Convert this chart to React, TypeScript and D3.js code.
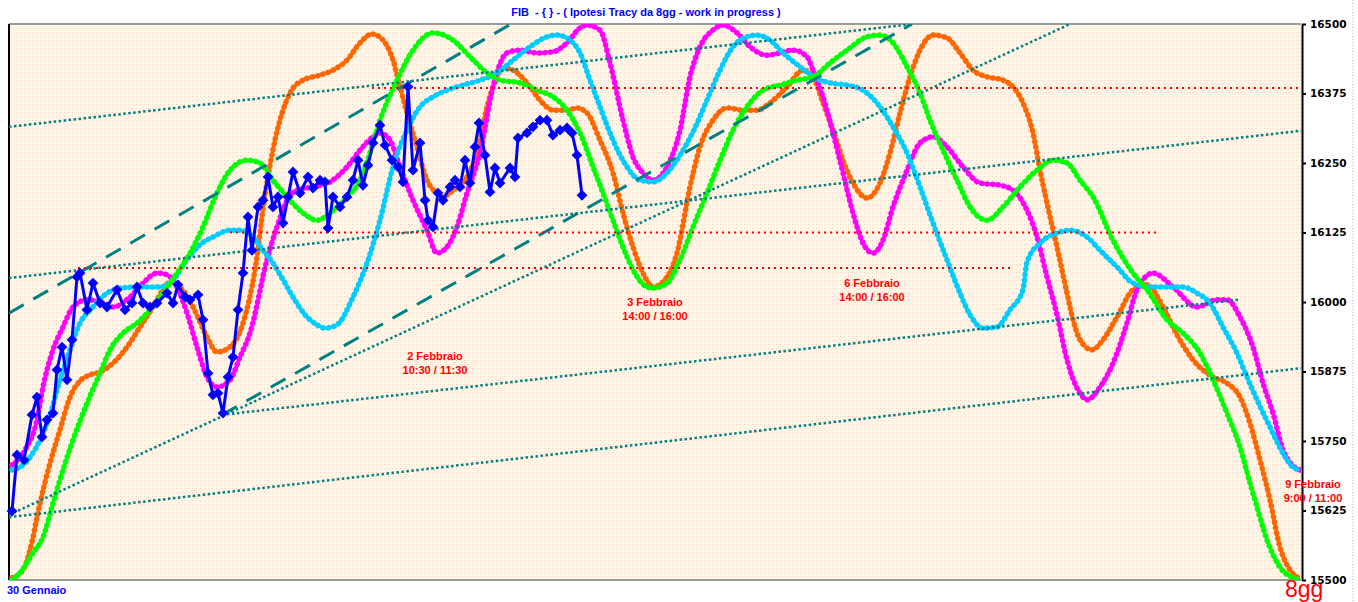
import React, { useRef, useEffect } from 'react';
import * as d3 from 'd3';

type Pt = [number, number];

// t = position along the 8-day horizon (0 .. 1292), v = FIB index level
const orangeCycle: Pt[] = [
  [3, 15504], [14, 15518], [21, 15554], [31, 15638], [41, 15710], [51, 15770], [61, 15829], [69, 15854],
  [81, 15869], [91, 15874], [104, 15890], [118, 15919], [131, 15955], [144, 15991], [154, 16022], [161, 16036],
  [171, 16027], [184, 15991], [198, 15937], [208, 15910], [221, 15919], [234, 15962], [246, 16058], [256, 16192],
  [266, 16291], [281, 16376], [294, 16399], [311, 16408], [324, 16417], [338, 16435], [351, 16466], [363, 16482],
  [374, 16471], [384, 16435], [391, 16387], [398, 16340], [408, 16279], [418, 16219], [428, 16196], [434, 16189],
  [444, 16201], [458, 16225], [468, 16268], [478, 16351], [488, 16405], [494, 16421], [504, 16417], [518, 16394],
  [531, 16363], [544, 16345], [558, 16345], [568, 16349], [578, 16340], [591, 16291], [604, 16232], [614, 16160],
  [624, 16099], [634, 16052], [644, 16027], [658, 16045], [668, 16088], [681, 16207], [691, 16279], [704, 16327],
  [718, 16349], [734, 16345], [748, 16345], [761, 16358], [778, 16387], [794, 16417], [804, 16405], [814, 16358],
  [824, 16309], [834, 16255], [844, 16214], [858, 16187], [871, 16214], [881, 16268], [891, 16340], [901, 16405],
  [911, 16453], [924, 16480], [938, 16475], [951, 16448], [964, 16417], [978, 16405], [994, 16399], [1004, 16387],
  [1014, 16358], [1024, 16304], [1031, 16237], [1038, 16178], [1048, 16099], [1058, 16016], [1064, 15968], [1071, 15932],
  [1083, 15914], [1094, 15932], [1108, 15973], [1124, 16022], [1138, 16031], [1154, 15991], [1168, 15941], [1184, 15896],
  [1204, 15865], [1218, 15854], [1231, 15829], [1241, 15782], [1251, 15716], [1261, 15644], [1271, 15559], [1281, 15518],
  [1289, 15504],
];

const greenCycle: Pt[] = [
  [3, 15500], [11, 15513], [24, 15549], [34, 15577], [44, 15638], [54, 15698], [64, 15752], [78, 15818],
  [91, 15872], [101, 15914], [114, 15944], [128, 15962], [141, 15986], [154, 16016], [168, 16052], [181, 16088],
  [194, 16135], [208, 16196], [221, 16237], [238, 16255], [251, 16250], [264, 16219], [278, 16189], [294, 16160],
  [308, 16147], [321, 16160], [338, 16189], [351, 16219], [361, 16268], [371, 16327], [381, 16372], [388, 16399],
  [404, 16453], [424, 16484], [444, 16471], [461, 16441], [478, 16412], [491, 16399], [511, 16394], [528, 16381],
  [544, 16369], [558, 16345], [571, 16304], [584, 16243], [594, 16196], [604, 16147], [614, 16099], [624, 16058],
  [638, 16027], [644, 16025], [658, 16034], [671, 16076], [684, 16135], [698, 16196], [711, 16255], [724, 16309],
  [738, 16351], [754, 16381], [771, 16390], [788, 16399], [804, 16405], [821, 16430], [838, 16453], [858, 16477],
  [871, 16480], [884, 16466], [898, 16423], [911, 16376], [921, 16327], [934, 16273], [948, 16219], [961, 16171],
  [978, 16147], [994, 16171], [1011, 16207], [1028, 16237], [1044, 16255], [1058, 16250], [1071, 16219], [1084, 16189],
  [1104, 16111], [1124, 16052], [1138, 16022], [1158, 15968], [1174, 15944], [1191, 15908], [1204, 15860], [1218, 15800],
  [1231, 15739], [1241, 15674], [1248, 15631], [1258, 15572], [1271, 15523], [1284, 15504], [1291, 15500],
];

const magentaCycle: Pt[] = [
  [3, 15707], [16, 15734], [28, 15788], [34, 15847], [44, 15914], [54, 15955], [64, 15991], [78, 16004],
  [91, 16000], [104, 15991], [121, 16009], [134, 16034], [148, 16052], [158, 16049], [168, 16027], [178, 15980],
  [188, 15919], [198, 15865], [208, 15847], [221, 15860], [231, 15901], [241, 15944], [258, 16076], [268, 16135],
  [278, 16183], [288, 16201], [304, 16207], [321, 16216], [338, 16243], [351, 16273], [364, 16297], [371, 16304],
  [381, 16291], [391, 16243], [404, 16183], [418, 16129], [428, 16088], [438, 16099], [448, 16135], [458, 16196],
  [471, 16268], [484, 16387], [498, 16448], [511, 16453], [528, 16448], [544, 16450], [558, 16466], [571, 16493],
  [578, 16498], [591, 16489], [601, 16430], [614, 16327], [624, 16261], [634, 16232], [644, 16219], [658, 16243],
  [671, 16309], [681, 16405], [691, 16459], [704, 16489], [714, 16498], [728, 16484], [741, 16459], [758, 16444],
  [771, 16448], [784, 16453], [798, 16441], [804, 16417], [814, 16369], [824, 16304], [834, 16232], [844, 16160],
  [854, 16106], [864, 16088], [874, 16111], [884, 16171], [898, 16237], [911, 16286], [924, 16297], [938, 16279],
  [954, 16243], [971, 16214], [991, 16210], [1004, 16201], [1018, 16165], [1028, 16117], [1038, 16045], [1048, 15977],
  [1058, 15896], [1071, 15836], [1078, 15824], [1091, 15847], [1104, 15890], [1118, 15962], [1128, 16022], [1144, 16052],
  [1164, 16027], [1188, 15991], [1208, 16004], [1218, 16004], [1231, 15973], [1244, 15919], [1254, 15854], [1264, 15800],
  [1274, 15734], [1283, 15707], [1291, 15698],
];

const cyanCycle: Pt[] = [
  [3, 15698], [11, 15703], [31, 15752], [41, 15797], [51, 15860], [61, 15914], [71, 15962], [84, 15991],
  [98, 16016], [111, 16025], [131, 16027], [151, 16027], [164, 16040], [178, 16076], [191, 16103], [204, 16117],
  [221, 16129], [231, 16129], [244, 16117], [254, 16093], [264, 16070], [274, 16040], [284, 16009], [296, 15977],
  [308, 15959], [316, 15953], [328, 15959], [344, 16009], [358, 16070], [371, 16147], [384, 16243], [398, 16309],
  [411, 16351], [424, 16369], [438, 16381], [454, 16390], [471, 16399], [488, 16412], [504, 16435], [521, 16459],
  [538, 16477], [548, 16480], [561, 16471], [571, 16448], [581, 16399], [591, 16351], [604, 16291], [618, 16243],
  [631, 16219], [644, 16216], [658, 16232], [671, 16264], [684, 16306], [698, 16363], [711, 16417], [724, 16459],
  [738, 16477], [748, 16480], [761, 16471], [774, 16448], [791, 16423], [804, 16405], [821, 16394], [838, 16390],
  [854, 16381], [871, 16351], [884, 16315], [898, 16268], [911, 16207], [924, 16142], [938, 16076], [951, 16016],
  [961, 15977], [974, 15953], [988, 15955], [1001, 15986], [1014, 16022], [1018, 16072], [1031, 16106], [1048, 16124],
  [1061, 16129], [1078, 16117], [1091, 16093], [1108, 16063], [1124, 16034], [1141, 16027], [1158, 16027], [1174, 16027],
  [1188, 16016], [1201, 15998], [1214, 15955], [1228, 15908], [1238, 15865], [1248, 15824], [1261, 15775], [1274, 15728],
  [1284, 15703], [1291, 15698],
];

const fibPrice: Pt[] = [
  [3, 15624], [8, 15725], [15, 15716], [23, 15797], [28, 15829], [33, 15757], [38, 15788], [44, 15800],
  [48, 15878], [53, 15919], [58, 15860], [63, 15932], [68, 16045], [71, 16052], [78, 15986], [84, 16034],
  [91, 15998], [98, 15991], [108, 16022], [116, 15986], [123, 15998], [128, 16027], [134, 15998], [141, 15991],
  [148, 15998], [158, 16016], [164, 15998], [169, 16031], [176, 16009], [181, 16004], [189, 16013], [194, 15968],
  [199, 15872], [204, 15833], [209, 15836], [214, 15800], [219, 15865], [224, 15901], [229, 15986], [234, 16052],
  [239, 16153], [243, 16093], [249, 16171], [254, 16183], [259, 16225], [264, 16171], [269, 16189], [274, 16142],
  [279, 16189], [284, 16234], [291, 16196], [299, 16225], [304, 16205], [311, 16219], [316, 16216], [319, 16133],
  [324, 16189], [331, 16171], [338, 16189], [344, 16219], [349, 16255], [354, 16210], [359, 16246], [364, 16286],
  [371, 16318], [376, 16282], [383, 16255], [389, 16243], [394, 16216], [399, 16387], [404, 16237], [411, 16286],
  [416, 16183], [419, 16147], [424, 16135], [429, 16196], [434, 16183], [441, 16207], [446, 16219], [451, 16207],
  [456, 16255], [461, 16214], [466, 16279], [470, 16322], [476, 16264], [481, 16198], [486, 16241], [491, 16214],
  [501, 16241], [506, 16225], [509, 16295], [518, 16304], [524, 16315], [531, 16327], [538, 16327], [544, 16300],
  [551, 16309], [558, 16313], [563, 16304], [568, 16264], [573, 16192],
];

// trend lines: start / end point
const dashedTrends: [Pt, Pt][] = [
  [[0, 15980], [502, 16500]],
  [[213, 15797], [903, 16500]],
];
const dottedTrends: [Pt, Pt][] = [
  [[0, 16315], [904, 16500]],
  [[0, 16043], [1292, 16308]],
  [[0, 15617], [1061, 16500]],
  [[0, 15613], [1292, 15881]],
  [[213, 15797], [1229, 16004]],
];

const redLevels = [
  { level: 16385, from: 363, to: 1292 },
  { level: 16125, from: 221, to: 1151 },
  { level: 16061, from: 69, to: 1001 },
];

const yTicks = [15500, 15625, 15750, 15875, 16000, 16125, 16250, 16375, 16500];

const notes = [
  { t: 426, v: 15896, day: '2 Febbraio', time: '10:30 / 11:30' },
  { t: 646, v: 15993, day: '3 Febbraio', time: '14:00 / 16:00' },
  { t: 863, v: 16027, day: '6 Febbraio', time: '14:00 / 16:00' },
  { t: 1304, v: 15665, day: '9 Febbraio', time: '9:00 / 11:00' },
];

const W = 1358;
const H = 602;
const margin = { top: 24, right: 57, bottom: 22, left: 9 };

const App: React.FC = () => {
  const svgRef = useRef<SVGSVGElement>(null);

  useEffect(() => {
    if (!svgRef.current) return;
    const svg = d3.select(svgRef.current);
    svg.selectAll('*').remove();

    const x0 = margin.left;
    const x1 = W - margin.right;
    const y0 = margin.top;
    const y1 = H - margin.bottom;

    const x = d3.scaleLinear().domain([0, 1292]).range([x0, x1]);
    const y = d3.scaleLinear().domain([15500, 16500]).range([y1, y0]);

    // dotted cream background like the original chart
    const defs = svg.append('defs');
    const pat = defs.append('pattern')
      .attr('id', 'bgdots')
      .attr('width', 4)
      .attr('height', 4)
      .attr('patternUnits', 'userSpaceOnUse');
    pat.append('rect').attr('width', 4).attr('height', 4).attr('fill', '#fef8f0');
    pat.append('rect').attr('x', 0).attr('y', 0).attr('width', 1).attr('height', 1).attr('fill', '#f6d2bc');
    pat.append('rect').attr('x', 2).attr('y', 2).attr('width', 1).attr('height', 1).attr('fill', '#f1ebbe');
    pat.append('rect').attr('x', 2).attr('y', 0).attr('width', 1).attr('height', 1).attr('fill', '#fbeee4');
    pat.append('rect').attr('x', 0).attr('y', 2).attr('width', 1).attr('height', 1).attr('fill', '#fbf1e0');

    defs.append('clipPath').attr('id', 'plotclip')
      .append('rect')
      .attr('x', x0).attr('y', y0)
      .attr('width', x1 - x0).attr('height', y1 - y0);

    svg.append('rect').attr('width', W).attr('height', H).attr('fill', '#ffffff');
    svg.append('line')
      .attr('x1', W - 5).attr('x2', W - 5).attr('y1', 0).attr('y2', H)
      .attr('stroke', '#b0b0b0').attr('stroke-dasharray', '1 2');
    svg.append('rect')
      .attr('x', x0).attr('y', y0)
      .attr('width', x1 - x0).attr('height', y1 - y0)
      .attr('fill', 'url(#bgdots)');
    svg.append('line').attr('x1', x0).attr('x2', x1).attr('y1', y0).attr('y2', y0)
      .attr('stroke', '#9a9a9a').attr('stroke-width', 2);
    svg.append('line').attr('x1', x0).attr('x2', x1).attr('y1', y1).attr('y2', y1)
      .attr('stroke', '#9a9a9a').attr('stroke-width', 2);
    svg.append('line').attr('x1', x0).attr('x2', x0).attr('y1', y0).attr('y2', y1)
      .attr('stroke', '#000').attr('stroke-width', 2);

    const plot = svg.append('g').attr('clip-path', 'url(#plotclip)');

    // cycle curves: thick line plus small dot markers
    const smooth = d3.line<Pt>()
      .x(d => x(d[0]))
      .y(d => y(d[1]))
      .curve(d3.curveMonotoneX);

    const drawCycle = (data: Pt[], color: string) => {
      plot.append('path')
        .attr('d', smooth(data))
        .attr('fill', 'none')
        .attr('stroke', color)
        .attr('stroke-width', 3)
        .attr('stroke-linejoin', 'round');
      plot.append('path')
        .attr('d', smooth(data))
        .attr('fill', 'none')
        .attr('stroke', color)
        .attr('stroke-width', 5.5)
        .attr('stroke-linecap', 'round')
        .attr('stroke-dasharray', '0.5 5');
    };

    drawCycle(orangeCycle, '#ff6600');
    drawCycle(magentaCycle, '#ff00ff');
    drawCycle(cyanCycle, '#00ccff');
    drawCycle(greenCycle, '#00ff00');

    // trend lines
    dashedTrends.forEach(([a, b]) => {
      plot.append('line')
        .attr('x1', x(a[0])).attr('y1', y(a[1]))
        .attr('x2', x(b[0])).attr('y2', y(b[1]))
        .attr('stroke', '#008080')
        .attr('stroke-width', 3)
        .attr('stroke-dasharray', '17 11');
    });
    dottedTrends.forEach(([a, b]) => {
      plot.append('line')
        .attr('x1', x(a[0])).attr('y1', y(a[1]))
        .attr('x2', x(b[0])).attr('y2', y(b[1]))
        .attr('stroke', '#008080')
        .attr('stroke-width', 2.5)
        .attr('stroke-dasharray', '2.5 2.5');
    });

    redLevels.forEach(r => {
      plot.append('line')
        .attr('x1', x(r.from)).attr('x2', x(r.to))
        .attr('y1', y(r.level)).attr('y2', y(r.level))
        .attr('stroke', '#ff0000')
        .attr('stroke-width', 2)
        .attr('stroke-dasharray', '2 4');
    });

    // price line with diamonds
    const straight = d3.line<Pt>().x(d => x(d[0])).y(d => y(d[1]));
    plot.append('path')
      .attr('d', straight(fibPrice))
      .attr('fill', 'none')
      .attr('stroke', '#0000ff')
      .attr('stroke-width', 3)
      .attr('stroke-linejoin', 'round');
    const diamond = d3.symbol().type(d3.symbolSquare).size(58);
    svg.append('g')
      .selectAll('path')
      .data(fibPrice)
      .enter()
      .append('path')
      .attr('d', diamond())
      .attr('transform', d => `translate(${x(d[0])},${y(d[1])}) rotate(45)`)
      .attr('fill', '#0000ff');

    // right axis
    const axis = d3.axisRight(y)
      .tickValues(yTicks)
      .tickSize(4)
      .tickSizeOuter(0)
      .tickPadding(4)
      .tickFormat(d3.format('d'));
    const ag = svg.append('g')
      .attr('transform', `translate(${x1 + 1},0)`)
      .call(axis);
    ag.select('.domain').attr('stroke', '#000').attr('stroke-width', 2);
    ag.selectAll('.tick line').attr('stroke', '#000').attr('stroke-width', 2);
    ag.selectAll('.tick text')
      .attr('fill', '#000')
      .attr('font-family', 'DejaVu Sans, Verdana, sans-serif')
      .attr('font-weight', 'bold')
      .attr('font-size', '10.5px');

    // annotations
    const font = 'Liberation Sans, Arial, sans-serif';
    notes.forEach(n => {
      const g = svg.append('g')
        .attr('font-family', font)
        .attr('font-weight', 'bold')
        .attr('font-size', '11px')
        .attr('fill', '#ff0000')
        .attr('text-anchor', 'middle');
      g.append('text').attr('x', x(n.t)).attr('y', y(n.v)).text(n.day);
      g.append('text').attr('x', x(n.t)).attr('y', y(n.v) + 14).text(n.time);
    });

    svg.append('text')
      .attr('x', 646)
      .attr('y', 16)
      .attr('text-anchor', 'middle')
      .attr('font-family', font)
      .attr('font-weight', 'bold')
      .attr('font-size', '11px')
      .attr('fill', '#0000ff')
      .style('white-space', 'pre')
      .text('FIB  - { } - ( Ipotesi Tracy da 8gg - work in progress )');

    svg.append('text')
      .attr('x', 7)
      .attr('y', 594)
      .attr('font-family', font)
      .attr('font-weight', 'bold')
      .attr('font-size', '11px')
      .attr('fill', '#0000ff')
      .text('30 Gennaio');

    svg.append('text')
      .attr('x', 1285)
      .attr('y', 597)
      .attr('font-family', font)
      .attr('font-size', '23px')
      .attr('fill', '#ff0000')
      .text('8gg');
  }, []);

  return (
    <div style={{ position: 'absolute', left: 0, top: 0 }}>
      <svg ref={svgRef} width={W} height={H} style={{ display: 'block' }}></svg>
    </div>
  );
};

export default App;
